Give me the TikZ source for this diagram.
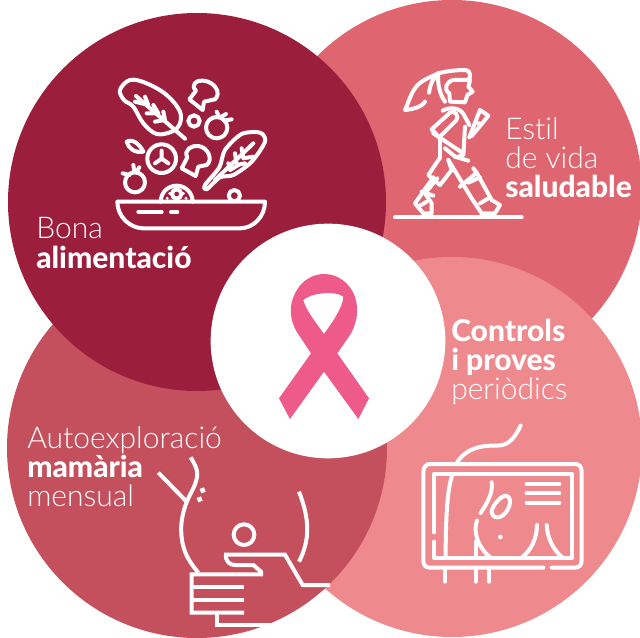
\documentclass[tikz,border=0pt]{standalone}
\usepackage{fontspec}
\usetikzlibrary{calc}
\setmainfont{Lato Light}[BoldFont={Lato Heavy},Ligatures=NoCommon]
\definecolor{cdark}{HTML}{9B1F3C}
\definecolor{ctr}{HTML}{DF6670}
\definecolor{cbr}{HTML}{EE8A8E}
\definecolor{cbl}{HTML}{C4505E}
\definecolor{crib}{HTML}{EE5B8A}
\tikzset{
  blob/.style={circle,draw=none,inner sep=0pt,outer sep=0pt},
  lbl/.style={anchor=base west,inner sep=0pt,text=white,font=\fontsize{22.5pt}{27pt}\selectfont},
  icon/.style={draw=white,line width=3pt,line cap=round,line join=round},
  iconmiter/.style={draw=white,line width=3pt,line cap=butt,line join=miter},
  zoomed/.style={x=.25pt,y=-.25pt},
}
\begin{document}
\begin{tikzpicture}[x=.75pt,y=-.75pt]
\useasboundingbox (0,0) rectangle (640,638);
\fill[white] (0,0) rectangle (640,638);
\begin{scope}
\clip (0,0) rectangle (640,638);
\node[blob,fill=ctr,minimum size=285pt] (c2) at (452,190) {};
\node[blob,fill=cbr,minimum size=285pt] (c3) at (452,447) {};
\node[blob,fill=cbl,minimum size=285pt] (c4) at (197,448) {};
\node[blob,fill=cdark,minimum size=283.5pt] (c1) at (197,202) {};
\node[blob,fill=white,minimum size=176pt] (c0) at (328,341) {};
\end{scope}
% ribbon
\begin{scope}[shift={(260,260)},zoomed]
\fill[crib,even odd rule]
 (57,415) -- (153,280) -- (110,215) .. controls (90,180) and (85,140) .. (105,100)
 .. controls (125,60) and (160,42) .. (192,42) .. controls (235,42) and (270,70) .. (285,110)
 .. controls (298,150) and (290,190) .. (272,222) -- (232,280) -- (327,415) -- (295,477) -- (192,335) -- (90,477) -- cycle
 (192,222) .. controls (165,185) and (135,145) .. (130,120) .. controls (150,100) and (225,90) .. (250,110)
 .. controls (250,140) and (215,190) .. (192,222) -- cycle;
\end{scope}
% salad
\begin{scope}[shift={(100,60)},zoomed]
\draw[icon] plot[smooth cycle,tension=.6] coordinates {(60,90) (90,60) (140,70) (200,105) (240,155) (238,195) (215,215) (170,222) (130,190) (100,140) (72,120)};
\draw[icon] (108,108) -- (255,236);
\draw[icon] (105,125) -- (145,135) -- (135,110) (140,160) -- (175,160) -- (160,135) (165,185) -- (195,180) -- (190,155);
\draw[icon] (268,118) -- (288,92) .. controls (270,75) and (290,58) .. (310,62) .. controls (345,65) and (365,100) .. (345,118) -- (312,125) -- (308,150) -- cycle;
\draw[icon] (282,183) circle (17);
\draw[icon] (350,203) circle (32);
\draw[icon] (350,155) -- (358,172) (395,178) -- (372,182) (378,162) -- (362,172);
\draw[icon] (80,245) .. controls (100,235) and (120,255) .. (130,275) .. controls (105,280) and (85,265) .. (80,245) -- cycle;
\draw[icon] (185,296) circle (43);
\draw[icon] (185,296) -- (185,272) (185,296) -- (165,310) (185,296) -- (205,310);
\draw[icon] (245,325) -- (262,292) .. controls (250,270) and (275,255) .. (295,258) .. controls (325,262) and (340,300) .. (320,315) -- (295,320) -- (287,348) -- cycle;
\draw[icon] plot[smooth cycle,tension=.5] coordinates {(315,375) (320,388) (360,352) (400,345) (455,305) (495,245) (480,218) (425,222) (375,270) (358,322)};
\draw[icon] (345,360) -- (460,250);
\draw[icon] (425,265) -- (430,295) -- (460,290) (405,280) -- (410,315) -- (435,310) (385,310) -- (390,330) -- (415,315);
\draw[icon] (105,367) circle (30);
\draw[icon] (68,340) -- (88,345) (100,315) -- (103,335) (118,322) -- (108,338);
\draw[icon] (182,425) arc[start angle=180,end angle=360,radius=48];
\draw[icon] (230,402) circle (14);
\foreach \a/\r in {-160/30,-130/32,-105/33,-75/33,-50/32,-20/30} \fill[white] ($(230,425)+(\a:\r)$) circle (5);
\draw[icon] (403,407) circle (17);
\draw[icon] (52,425) -- (495,425) .. controls (495,470) and (460,505) .. (420,505) -- (130,505) .. controls (90,505) and (52,470) .. (52,425) -- cycle;
\draw[icon] (115,456) -- (185,456) (213,456) -- (232,456);
\end{scope}
% walker
\begin{scope}[shift={(380,50)},zoomed]
\draw[icon] (45,502) -- (425,502);
\draw[icon] (175,70) .. controls (205,62) and (235,60) .. (258,60) .. controls (272,60) and (275,88) .. (262,90) -- (222,90) .. controls (200,92) and (188,118) .. (208,130) -- (210,155) -- (255,157) -- (262,135) -- (278,125) -- (265,110) -- (270,90);
\draw[icon] (175,70) .. controls (172,100) and (178,130) .. (195,155);
\draw[icon] (175,70) .. controls (150,82) and (120,92) .. (105,115) .. controls (90,135) and (85,160) .. (75,180) .. controls (95,178) and (125,172) .. (135,155);
\draw[icon] (147,128) .. controls (150,105) and (158,85) .. (175,70);
\draw[icon] (188,182) .. controls (205,172) and (240,170) .. (252,195) -- (268,225);
\draw[icon] (210,188) .. controls (222,180) and (240,195) .. (228,212) -- (178,262) -- (155,238) -- cycle;
\draw[icon] (160,250) -- (250,310);
\draw[icon] (180,265) -- (180,323);
\draw[icon] (255,230) -- (250,315) -- (228,322) -- (195,295);
\draw[icon] (225,320) -- (265,332);
\draw[icon] (268,262) -- (285,218) -- (300,180) -- (325,197) -- (305,222) -- (285,218);
\draw[icon] (305,222) -- (275,258);
\draw[icon] (180,323) -- (145,375) -- (180,405) -- (215,360) -- (205,330);
\draw[icon] (160,382) -- (105,460) -- (130,490) -- (155,490) -- (155,460) -- (135,430) -- (172,385);
\draw[icon] (125,425) -- (160,437);
\draw[icon] (115,470) -- (140,455);
\draw[icon] (205,330) -- (275,445) -- (305,490) -- (345,490) -- (360,465) -- (335,450) -- (290,368);
\draw[icon] (240,410) -- (290,368) -- (280,355);
\draw[icon] (265,398) -- (300,382);
\draw[icon] (300,460) -- (325,445);
\end{scope}
% breast exam
\begin{scope}[shift={(150,440)},zoomed]
\draw[iconmiter] (122,52) .. controls (145,90) and (150,105) .. (125,155) .. controls (100,200) and (80,265) .. (105,335) .. controls (115,360) and (130,380) .. (145,398);
\draw[iconmiter] (25,98) -- (110,185);
\fill[white,rotate around={20:(158,151)}] (151,144) rectangle (165,158);
\fill[white,rotate around={20:(149,178)}] (142,171) rectangle (156,185);
\draw[iconmiter] (447,155) .. controls (480,240) and (480,300) .. (447,365);
\draw[iconmiter] (282,284) circle (31);
\draw[iconmiter] (540,435) -- (458,435) -- (405,344) -- (228,344) .. controls (226,365) and (240,375) .. (255,375) -- (310,375) -- (333,395) -- (333,403) -- (125,403) -- (125,518) -- (282,518);
\draw[iconmiter] (125,441) -- (282,441) (125,480) -- (282,480);
\draw[iconmiter] (200,518) -- (200,555) -- (362,555);
\end{scope}
% monitor
\begin{scope}[shift={(410,415)},zoomed]
\draw[icon] (400,458) -- (60,458) .. controls (45,458) and (40,450) .. (40,435) -- (40,170) .. controls (40,155) and (50,147) .. (60,147) -- (495,147) .. controls (508,147) and (515,155) .. (515,170) -- (515,435) .. controls (515,450) and (508,458) .. (495,458) -- (425,458);
\draw[icon] (72,352) -- (72,178) -- (487,178) -- (487,428) -- (72,428) -- (72,380);
\draw[icon] (140,145) .. controls (165,100) and (215,90) .. (260,92) .. controls (300,92) and (315,65) .. (332,32);
\draw[icon] (128,178) .. controls (110,220) and (107,330) .. (107,428);
\draw[icon] (245,202) .. controls (250,235) and (230,265) .. (212,294);
\draw[icon] plot[smooth cycle,tension=.8] coordinates {(283,243) (300,262) (280,300) (250,303) (250,275)};
\draw[icon] (350,207) -- (448,207) (350,235) -- (448,235) (350,263) -- (448,263);
\draw[icon] (201,317) .. controls (188,350) and (205,400) .. (242,428);
\draw[icon] (335,428) .. controls (365,405) and (380,370) .. (381,330);
\draw[icon] (410,330) .. controls (412,370) and (430,405) .. (458,428);
\draw[icon] (197,380) -- (197,428);
\fill[white] (271,366) circle (7);
\draw[icon] (104,462) -- (104,500) (197,462) -- (197,500) (237,462) -- (237,500);
\end{scope}
% labels
\node[lbl] (a1) at (36,239) {Bona};
\node[lbl] (a2) at (36,269) {\textbf{alimentació}};
\node[lbl] (b1) at (505,140) {Estil};
\node[lbl] (b2) at (505,169) {de vida};
\node[lbl] (b3) at (505,198) {\textbf{saludable}};
\node[lbl] (d1) at (451,342) {\textbf{Controls}};
\node[lbl] (d2) at (451,371) {\textbf{i proves}};
\node[lbl] (d3) at (451,400) {periòdics};
\node[lbl] (e1) at (27,448) {Autoexploració};
\node[lbl] (e2) at (27,477) {\textbf{mamària}};
\node[lbl] (e3) at (27,506) {mensual};
\end{tikzpicture}
\end{document}
